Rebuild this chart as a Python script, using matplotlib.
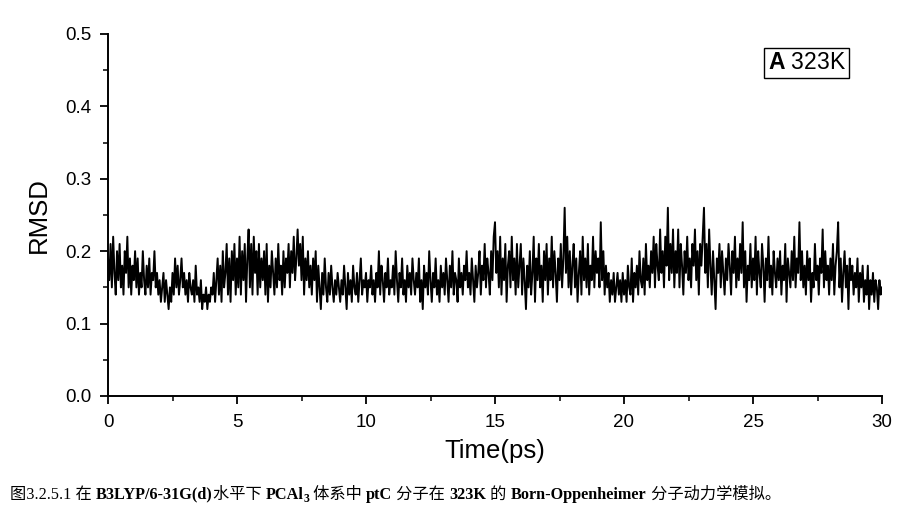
import numpy as np
import matplotlib.pyplot as plt

# RMSD trace, 20 values per ps (0 .. 30 ps)
rmsd = [
    0.19, 0.16, 0.21, 0.15, 0.22, 0.17, 0.14, 0.20, 0.16, 0.21, 0.15, 0.18, 0.14, 0.20, 0.17, 0.22, 0.15, 0.19, 0.14, 0.18,
    0.16, 0.20, 0.15, 0.19, 0.14, 0.17, 0.15, 0.20, 0.16, 0.14, 0.18, 0.15, 0.19, 0.14, 0.17, 0.16, 0.20, 0.15, 0.17, 0.14,
    0.16, 0.13, 0.15, 0.17, 0.13, 0.16, 0.14, 0.12, 0.15, 0.13, 0.17, 0.14, 0.19, 0.15, 0.18, 0.14, 0.16, 0.19, 0.15, 0.17,
    0.14, 0.16, 0.13, 0.17, 0.15, 0.14, 0.16, 0.13, 0.18, 0.14, 0.15, 0.13, 0.16, 0.12, 0.14, 0.13, 0.15, 0.12, 0.14, 0.13,
    0.15, 0.14, 0.17, 0.13, 0.16, 0.19, 0.14, 0.18, 0.13, 0.20, 0.15, 0.17, 0.21, 0.14, 0.19, 0.13, 0.20, 0.16, 0.21, 0.14,
    0.19, 0.15, 0.22, 0.14, 0.20, 0.16, 0.21, 0.13, 0.19, 0.23, 0.15, 0.21, 0.14, 0.22, 0.17, 0.20, 0.14, 0.21, 0.15, 0.19,
    0.16, 0.20, 0.14, 0.21, 0.13, 0.18, 0.15, 0.20, 0.17, 0.14, 0.19, 0.15, 0.21, 0.16, 0.18, 0.14, 0.20, 0.15, 0.19, 0.17,
    0.21, 0.15, 0.20, 0.17, 0.22, 0.16, 0.19, 0.23, 0.18, 0.21, 0.16, 0.22, 0.14, 0.19, 0.16, 0.20, 0.15, 0.18, 0.14, 0.19,
    0.16, 0.20, 0.13, 0.18, 0.15, 0.12, 0.17, 0.14, 0.19, 0.15, 0.13, 0.17, 0.14, 0.18, 0.15, 0.13, 0.16, 0.14, 0.17, 0.15,
    0.13, 0.16, 0.14, 0.18, 0.15, 0.12, 0.17, 0.14, 0.16, 0.13, 0.18, 0.15, 0.14, 0.17, 0.13, 0.16, 0.19, 0.14, 0.16, 0.15,
    0.17, 0.13, 0.16, 0.15, 0.18, 0.14, 0.16, 0.13, 0.17, 0.15, 0.20, 0.14, 0.18, 0.16, 0.13, 0.17, 0.15, 0.19, 0.14, 0.16,
    0.15, 0.18, 0.14, 0.20, 0.16, 0.13, 0.17, 0.15, 0.19, 0.14, 0.16, 0.13, 0.18, 0.15, 0.17, 0.14, 0.19, 0.16, 0.14, 0.17,
    0.15, 0.19, 0.13, 0.16, 0.12, 0.18, 0.15, 0.17, 0.14, 0.20, 0.16, 0.13, 0.17, 0.15, 0.19, 0.14, 0.16, 0.13, 0.18, 0.15,
    0.17, 0.14, 0.19, 0.16, 0.13, 0.18, 0.15, 0.20, 0.14, 0.17, 0.16, 0.13, 0.19, 0.15, 0.17, 0.14, 0.18, 0.16, 0.20, 0.15,
    0.17, 0.14, 0.19, 0.16, 0.13, 0.18, 0.15, 0.17, 0.20, 0.14, 0.18, 0.16, 0.21, 0.15, 0.19, 0.17, 0.14, 0.20, 0.16, 0.22,
    0.24, 0.17, 0.20, 0.15, 0.22, 0.14, 0.19, 0.16, 0.21, 0.13, 0.18, 0.20, 0.15, 0.22, 0.16, 0.19, 0.14, 0.21, 0.15, 0.18,
    0.21, 0.14, 0.19, 0.16, 0.12, 0.18, 0.15, 0.20, 0.14, 0.17, 0.22, 0.13, 0.19, 0.16, 0.21, 0.15, 0.18, 0.13, 0.20, 0.16,
    0.21, 0.14, 0.19, 0.16, 0.22, 0.15, 0.20, 0.17, 0.13, 0.19, 0.16, 0.21, 0.15, 0.19, 0.26, 0.17, 0.22, 0.15, 0.20, 0.14,
    0.18, 0.21, 0.15, 0.19, 0.13, 0.17, 0.20, 0.14, 0.22, 0.16, 0.19, 0.15, 0.21, 0.14, 0.18, 0.16, 0.22, 0.15, 0.20, 0.17,
    0.19, 0.15, 0.24, 0.16, 0.20, 0.14, 0.18, 0.15, 0.17, 0.13, 0.16, 0.14, 0.17, 0.13, 0.15, 0.17, 0.14, 0.16, 0.13, 0.17,
    0.14, 0.16, 0.13, 0.18, 0.15, 0.14, 0.19, 0.13, 0.17, 0.15, 0.18, 0.14, 0.20, 0.16, 0.15, 0.19, 0.14, 0.21, 0.16, 0.18,
    0.15, 0.20, 0.17, 0.22, 0.15, 0.21, 0.18, 0.16, 0.23, 0.17, 0.20, 0.15, 0.22, 0.18, 0.26, 0.16, 0.21, 0.17, 0.23, 0.15,
    0.20, 0.17, 0.23, 0.15, 0.21, 0.18, 0.14, 0.20, 0.17, 0.22, 0.16, 0.19, 0.15, 0.21, 0.18, 0.23, 0.16, 0.20, 0.14, 0.21,
    0.18, 0.22, 0.26, 0.17, 0.21, 0.15, 0.23, 0.18, 0.14, 0.20, 0.16, 0.12, 0.19, 0.17, 0.21, 0.15, 0.20, 0.17, 0.14, 0.19,
    0.16, 0.21, 0.18, 0.14, 0.20, 0.17, 0.22, 0.15, 0.19, 0.16, 0.21, 0.17, 0.24, 0.15, 0.20, 0.13, 0.18, 0.16, 0.21, 0.15,
    0.19, 0.16, 0.22, 0.14, 0.20, 0.17, 0.15, 0.21, 0.18, 0.13, 0.19, 0.16, 0.22, 0.15, 0.18, 0.14, 0.20, 0.17, 0.15, 0.19,
    0.16, 0.20, 0.14, 0.18, 0.16, 0.21, 0.13, 0.19, 0.17, 0.15, 0.20, 0.16, 0.22, 0.15, 0.19, 0.17, 0.24, 0.16, 0.20, 0.15,
    0.18, 0.14, 0.20, 0.16, 0.19, 0.13, 0.17, 0.15, 0.21, 0.16, 0.18, 0.14, 0.19, 0.17, 0.23, 0.15, 0.20, 0.16, 0.18, 0.14,
    0.19, 0.16, 0.21, 0.14, 0.18, 0.20, 0.24, 0.15, 0.19, 0.13, 0.17, 0.20, 0.15, 0.18, 0.12, 0.19, 0.16, 0.18, 0.14, 0.17,
    0.15, 0.19, 0.13, 0.17, 0.15, 0.18, 0.13, 0.16, 0.14, 0.18, 0.12, 0.16, 0.14, 0.17, 0.13, 0.16, 0.15, 0.12, 0.16, 0.14,
    0.15,
]
time_ps = np.linspace(0, 30, len(rmsd))

x_ticks = [0, 5, 10, 15, 20, 25, 30]
y_ticks = [0.0, 0.1, 0.2, 0.3, 0.4, 0.5]
panel_label = r"$\mathbf{A}$ 323K"

caption_parts = [
    ("图3.2.5.1 在 ", "normal"),
    ("B3LYP/6-31G(d)", "bold"),
    ("水平下 ", "normal"),
    ("PCAl", "bold"),
    ("3", "sub"),
    (" 体系中 ", "normal"),
    ("ptC", "bold"),
    (" 分子在 ", "normal"),
    ("323K", "bold"),
    (" 的 ", "normal"),
    ("Born-Oppenheimer", "bold"),
    (" 分子动力学模拟。", "normal"),
]

plt.rcParams["font.family"] = ["Liberation Sans", "DejaVu Sans"]
plt.rcParams["mathtext.fontset"] = "custom"
plt.rcParams["mathtext.rm"] = "Liberation Sans"
plt.rcParams["mathtext.bf"] = "Liberation Sans:bold"

fig = plt.figure(figsize=(9, 5.12), dpi=100)
ax = fig.add_axes([0.12, 0.2266, 0.86, 0.707])

ax.plot(time_ps, rmsd, color="black", linewidth=1.4)

ax.set_xlim(0, 30)
ax.set_ylim(0, 0.5)
ax.set_xticks(x_ticks)
ax.set_yticks(y_ticks)
ax.set_yticklabels([f"{v:.1f}" for v in y_ticks])
ax.set_xticks(np.arange(2.5, 30, 5), minor=True)
ax.set_yticks(np.arange(0.05, 0.5, 0.1), minor=True)
ax.tick_params(which="major", direction="out", length=6, width=1.3, labelsize=13.5)
ax.tick_params(axis="x", which="major", pad=7)
ax.tick_params(axis="y", which="major", pad=6)
ax.tick_params(which="minor", direction="out", length=3.5, width=1.1)
for side in ("top", "right"):
    ax.spines[side].set_visible(False)
for side in ("left", "bottom"):
    ax.spines[side].set_linewidth(1.4)

ax.set_xlabel("Time(ps)", fontsize=18.5, labelpad=6)
ax.set_ylabel("RMSD", fontsize=18.5, labelpad=10)

ax.text(0.903, 0.921, panel_label, transform=ax.transAxes, fontsize=16.5,
        ha="center", va="center",
        bbox=dict(boxstyle="square,pad=0.15", facecolor="white",
                  edgecolor="black", linewidth=1.0))

# caption below the chart, pieces laid out one after the other
renderer = fig.canvas.get_renderer()
cap_family = ["Liberation Serif", "Noto Sans CJK SC"]
x_pos = 10 / 900
base_y = 0.026
for text, style in caption_parts:
    if style == "sub":
        t = fig.text(x_pos, base_y - 0.007, text, fontsize=8.5, fontweight="bold",
                     family=cap_family, va="baseline")
    else:
        t = fig.text(x_pos, base_y, text, fontsize=11.7, family=cap_family,
                     fontweight="bold" if style == "bold" else "normal", va="baseline")
    x_pos += t.get_window_extent(renderer).width / fig.bbox.width

fig.savefig("out.png", dpi=100)
